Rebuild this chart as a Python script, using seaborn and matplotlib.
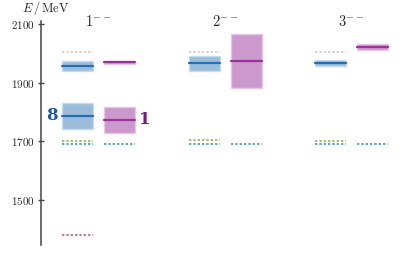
import matplotlib
matplotlib.use('Agg')
import matplotlib.pyplot as plt
import seaborn as sns
import pandas as pd

# ---- data ----
groups = [r'$1^{--}$', r'$2^{--}$', r'$3^{--}$']
octet_mass = [1957, 1966, 1968]
octet_err = [17, 25, 11]
singlet_mass = [1969, 1974, 2021]
singlet_err = [5, 91, 11]
octet_exc_mass = [1787]
octet_exc_err = [43]
singlet_exc_mass = [1773]
singlet_exc_err = [43]
thr_gray = [2006, 2006, 2006]     # octet column
thr_green = [1702, 1705, 1702]    # octet column
thr_teal_oct = [1692, 1691, 1691]  # octet column
thr_teal_sing = [1692, 1691, 1691]  # singlet column
thr_red = [1381]                  # octet column, first group only
yticks = [1500, 1700, 1900, 2100]

sns.set_theme(style='ticks')
plt.rcParams['mathtext.fontset'] = 'cm'
plt.rcParams['font.family'] = ['DejaVu Serif']

W, H = 415, 257
fig = plt.figure(figsize=(W / 100, H / 100), dpi=100)
ax = fig.add_axes([41 / W, 12 / H, (W - 41) / W, (245 - 21.1) / H])

off = 0.166
hw = 0.1225
blue_fill, blue_edge, blue_line = '#9bbddb', '#c6dbee', '#2a6cb0'
pur_fill, pur_edge, pur_line = '#cc99cc', '#e6c6e6', '#993399'
dot = (0, (1.4, 1.2))

def box(x, m, e, fill, edge, line):
    ax.bar([x], [2 * e], bottom=[m - e], width=2 * hw, color=fill,
           edgecolor=edge, linewidth=1.0, zorder=2)
    sns.lineplot(x=[x - hw, x + hw], y=[m, m], ax=ax, color=line,
                 linewidth=1.6, zorder=3, estimator=None)

def thr(x, v, color):
    sns.lineplot(x=[x - hw, x + hw], y=[v, v], ax=ax, color=color,
                 linewidth=1.2, linestyle=dot, zorder=1, estimator=None)

for i in range(3):
    xo, xs = i - off, i + off
    box(xo, octet_mass[i], octet_err[i], blue_fill, blue_edge, blue_line)
    box(xs, singlet_mass[i], singlet_err[i], pur_fill, pur_edge, pur_line)
    thr(xo, thr_gray[i], '#cccccc')
    thr(xo, thr_green[i], '#86b84e')
    thr(xo, thr_teal_oct[i], '#3f9c9c')
    thr(xs, thr_teal_sing[i], '#3f9c9c')
    ax.text(i, 2093, groups[i], ha='center', va='baseline', fontsize=10.5)

box(-off, octet_exc_mass[0], octet_exc_err[0], blue_fill, blue_edge, blue_line)
box(off, singlet_exc_mass[0], singlet_exc_err[0], pur_fill, pur_edge, pur_line)
thr(-off, thr_red[0], '#d05a6e')

ax.text(-off - hw - 0.035, octet_exc_mass[0], '8', ha='right',
        va='center', fontsize=12, fontweight='bold', color='#1f5a9e',
        family=['DejaVu Serif'])
ax.text(off + hw + 0.035, singlet_exc_mass[0], '1', ha='left',
        va='center', fontsize=12, fontweight='bold', color='#7a1a7a',
        family=['DejaVu Serif'])

ax.set_xlim(-0.4545, 2.5)
ax.set_ylim(1347, 2110)
ax.set_yticks(yticks)
ax.set_yticklabels([f'${t}$' for t in yticks], fontsize=8)
ax.set_xticks([])
ax.set_xlabel('')
ax.set_ylabel('')
for s in ['top', 'right', 'bottom']:
    ax.spines[s].set_visible(False)
ax.spines['left'].set_color('#444444')
ax.spines['left'].set_linewidth(1.1)
ax.tick_params(axis='y', direction='inout', length=5, width=1.0,
               color='#444444', pad=2)
ax.patch.set_alpha(0)

fig.text(22 / W, 1 - 12 / H, r'$E\,/\,\mathrm{MeV}$', ha='left',
         va='baseline', fontsize=9)

fig.savefig('out.png', dpi=100)
